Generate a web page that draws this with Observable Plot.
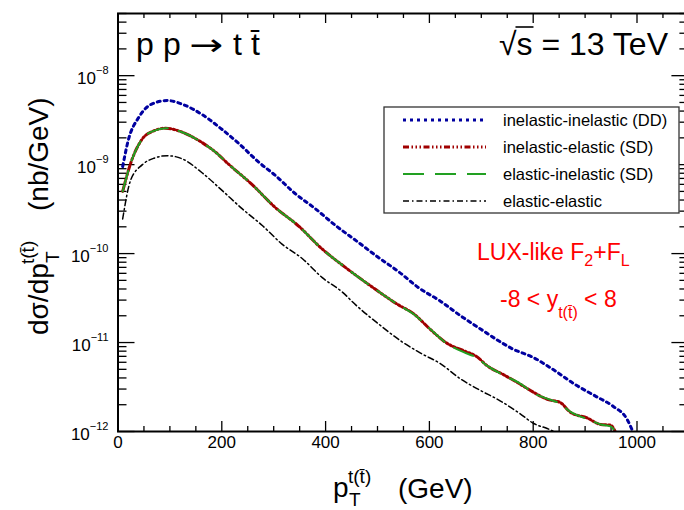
<!DOCTYPE html>
<html><head><meta charset="utf-8">
<script src="https://cdn.jsdelivr.net/npm/d3@7"></script>
<script src="https://cdn.jsdelivr.net/npm/@observablehq/plot@0.6"></script>
<style>
html,body{margin:0;padding:0;background:#fff;overflow:hidden}
#chart{position:relative;width:684px;height:510px;overflow:hidden}
</style>
</head><body><div id="chart"></div>
<script>
// ---------------- data ----------------
const ptDD  = [9, 20, 40, 65, 95, 125, 165, 200, 235, 270, 305, 340, 380, 420, 460, 500, 540, 580, 620, 660, 700, 740, 760, 800, 840, 880, 920, 955, 980, 992];
const sigDD = [0.95e-9, 1.9e-9, 3.4e-9, 4.8e-9, 5.25e-9, 4.75e-9, 3.56e-9, 2.5e-9, 1.68e-9, 1.08e-9, 7.4e-10, 4.8e-10, 3.2e-10, 2.05e-10, 1.38e-10, 9.2e-11, 6.3e-11, 4.1e-11, 2.95e-11, 2.0e-11, 1.4e-11, 9.9e-12, 8.5e-12, 6.8e-12, 4.9e-12, 3.4e-12, 2.5e-12, 1.9e-12, 1.4e-12, 1.0e-12];

const ptSD  = [9, 24, 47, 69, 92, 120, 156, 188, 214, 258, 303, 348, 393, 438, 490, 538, 570, 602, 634, 666, 692, 711, 743, 775, 801, 827, 852, 872, 904, 930, 949, 958];
const sigIE = [5.0e-10, 1.02e-9, 1.95e-9, 2.4e-9, 2.57e-9, 2.36e-9, 1.86e-9, 1.38e-9, 1.0e-9, 6.0e-10, 3.3e-10, 2.04e-10, 1.13e-10, 7.0e-11, 4.2e-11, 2.7e-11, 2.1e-11, 1.4e-11, 9.8e-12, 8.1e-12, 6.9e-12, 5.5e-12, 4.35e-12, 3.4e-12, 2.75e-12, 2.3e-12, 2.12e-12, 1.64e-12, 1.42e-12, 1.2e-12, 1.18e-12, 1.0e-12];
const sigEI = [5.0e-10, 1.02e-9, 1.95e-9, 2.4e-9, 2.57e-9, 2.36e-9, 1.86e-9, 1.38e-9, 1.0e-9, 6.0e-10, 3.3e-10, 2.04e-10, 1.13e-10, 7.0e-11, 4.2e-11, 2.7e-11, 2.08e-11, 1.41e-11, 9.7e-12, 7.8e-12, 6.7e-12, 5.5e-12, 4.3e-12, 3.45e-12, 2.7e-12, 2.34e-12, 2.05e-12, 1.66e-12, 1.38e-12, 1.2e-12, 1.14e-12, 1.0e-12];

const ptEE  = [9, 24, 47, 69, 95, 124, 162, 201, 239, 278, 316, 356, 393, 432, 458, 506, 544, 583, 621, 660, 698, 737, 775, 801, 827, 840];
const sigEE = [2.45e-10, 6.6e-10, 1.0e-9, 1.18e-9, 1.26e-9, 1.16e-9, 8.1e-10, 5.1e-10, 3.2e-10, 2.07e-10, 1.28e-10, 8.7e-11, 5.4e-11, 3.7e-11, 2.65e-11, 1.55e-11, 1.05e-11, 7.6e-12, 5.8e-12, 3.9e-12, 2.9e-12, 2.2e-12, 1.58e-12, 1.23e-12, 1.08e-12, 1.0e-12];

const seriesNames = ["inelastic-inelastic (DD)", "inelastic-elastic (SD)", "elastic-inelastic (SD)", "elastic-elastic"];

const xTicks = [0, 200, 400, 600, 800, 1000];
const xTickLabels = ["0", "200", "400", "600", "800", "1000"];
const yTicks = [1e-12, 1e-11, 1e-10, 1e-9, 1e-8];
const yTickExponents = ["\u221212", "\u221211", "\u221210", "\u22129", "\u22128"];

// ---------------- styles ----------------
const FONT = '"Liberation Sans", Arial, Helvetica, sans-serif';
const W = 684, H = 510, mL = 117.5, mR = -4.4, mT = 13, mB = 79;
const plotW = W - mL - mR, plotH = H - mT - mB;
const styles = [
  {stroke: "#0000a0", strokeWidth: 3, dash: "3,4"},
  {stroke: "#a00000", strokeWidth: 3, dash: "6,2.5,1.5,2.5,1.5,2.5,1.5,2.5"},
  {stroke: "#22a022", strokeWidth: 2, dash: "21,11"},
  {stroke: "#000000", strokeWidth: 1.5, dash: "6,3,1.5,3"}
];

const table = (pts, sigs) => pts.map((pt, i) => ({pt, sig: sigs[i]}));
const rows = [table(ptDD, sigDD), table(ptSD, sigIE), table(ptSD, sigEI), table(ptEE, sigEE)];

const xMinor = d3.range(50, 1100, 50).filter(v => v % 200 !== 0);
const yMinor = [-12, -11, -10, -9, -8].flatMap(e => [2,3,4,5,6,7,8,9].map(k => k * Math.pow(10, e))).filter(v => v < 5.01e-8);

const tickColor = "black";
const plot = Plot.plot({
  width: W, height: H,
  marginLeft: mL, marginRight: mR, marginTop: mT, marginBottom: mB,
  style: {fontFamily: FONT, background: "white", color: "black"},
  x: {domain: [0, 1100]},
  y: {type: "log", domain: [1e-12, 5e-8]},
  marks: [
    Plot.axisX({ticks: xTicks, tickSize: 0, tickPadding: 4, fontSize: 17, label: null,
      tickFormat: d => xTickLabels[xTicks.indexOf(d)]}),
    Plot.axisY({ticks: yTicks, tickSize: 0, tickPadding: 9.5, fontSize: 17, label: null, dy: 3,
      tickFormat: d => yTickExponents[yTicks.indexOf(d)]}),
    // inward ticks bottom / top
    Plot.tickX(xTicks, {x: d => d, insetTop: plotH - 10, stroke: tickColor, strokeWidth: 1.3}),
    Plot.tickX(xMinor, {x: d => d, insetTop: plotH - 5, stroke: tickColor, strokeWidth: 1.3}),
    Plot.tickX(xTicks, {x: d => d, insetBottom: plotH - 10, stroke: tickColor, strokeWidth: 1.3}),
    Plot.tickX(xMinor, {x: d => d, insetBottom: plotH - 5, stroke: tickColor, strokeWidth: 1.3}),
    // inward ticks left / right
    Plot.tickY(yTicks, {y: d => d, insetRight: plotW - 17, stroke: tickColor, strokeWidth: 1.3}),
    Plot.tickY(yMinor, {y: d => d, insetRight: plotW - 9, stroke: tickColor, strokeWidth: 1.3}),
    Plot.tickY(yTicks, {y: d => d, insetLeft: plotW - 17, stroke: tickColor, strokeWidth: 1.3}),
    Plot.tickY(yMinor, {y: d => d, insetLeft: plotW - 9, stroke: tickColor, strokeWidth: 1.3}),
    // curves
    ...rows.map((r, i) => Plot.line(r, {x: "pt", y: "sig", stroke: styles[i].stroke, strokeWidth: styles[i].strokeWidth,
      strokeDasharray: styles[i].dash, curve: "monotone-x", clip: true})),
    Plot.frame({stroke: "black", strokeWidth: 2})
  ]
});
document.getElementById("chart").appendChild(plot);

const svg = d3.select(plot);
// superscript exponents on y tick labels
svg.selectAll('g[aria-label="y-axis tick label"] text').each(function() {
  const t = d3.select(this);
  const e = t.text();
  t.text(null);
  t.append("tspan").text("10");
  t.append("tspan").attr("font-size", 11).attr("dy", "-0.9em").text(e);
});

const g = svg.append("g").attr("font-family", FONT).attr("fill", "black").attr("text-anchor", "start");

// top-left process label
const TS = 32;
g.append("text").attr("x", 136).attr("y", 55).attr("font-size", TS).text("p");
g.append("text").attr("x", 163).attr("y", 55).attr("font-size", TS).text("p");
g.append("text").attr("transform", "translate(189,55) scale(1.35,1)").attr("font-family", '"DejaVu Sans", sans-serif')
  .attr("font-size", 30).text("\u2192");
g.append("text").attr("x", 233).attr("y", 55).attr("font-size", TS).text("t");
g.append("text").attr("x", 251).attr("y", 55).attr("font-size", TS).text("t\u0304");

// sqrt(s) = 13 TeV
const ts = g.append("text").attr("x", 668).attr("y", 55).attr("font-size", TS).attr("text-anchor", "end")
  .text("\u221As = 13 TeV");
const tsNode = ts.node();
try {
  const x0 = tsNode.getEndPositionOfChar(0).x, x1 = tsNode.getEndPositionOfChar(1).x;
  g.append("line").attr("x1", x0 - 1).attr("x2", x1 + 1).attr("y1", 27).attr("y2", 27)
    .attr("stroke", "black").attr("stroke-width", 1.6);
} catch (e) {}

// x title
g.append("text").attr("x", 333).attr("y", 497).attr("font-size", 28).text("p");
g.append("text").attr("x", 349).attr("y", 506).attr("font-size", 19).text("T");
g.append("text").attr("x", 348).attr("y", 483).attr("font-size", 19).text("t(t\u0304)");
g.append("text").attr("x", 398).attr("y", 498).attr("font-size", 28).text("(GeV)");

// y title (rotated)
const yt = g.append("g").attr("transform", "translate(48,335) rotate(-90)");
yt.append("text").attr("x", 0).attr("y", 0).attr("font-size", 28).text("d\u03C3/dp");
yt.append("text").attr("x", 72).attr("y", 11).attr("font-size", 19).text("T");
yt.append("text").attr("x", 71).attr("y", -14).attr("font-size", 19).text("t(t\u0304)");
yt.append("text").attr("x", 124).attr("y", 0).attr("font-size", 28).text("(nb/GeV)");

// red annotation
const r1 = g.append("text").attr("x", 477).attr("y", 260).attr("font-size", 23).attr("fill", "#ff0000");
r1.append("tspan").text("LUX-like F");
r1.append("tspan").attr("font-size", 16).attr("dy", 6).text("2");
r1.append("tspan").attr("dy", -6).text("+F");
r1.append("tspan").attr("font-size", 16).attr("dy", 6).text("L");
const r2 = g.append("text").attr("x", 500).attr("y", 307).attr("font-size", 23).attr("fill", "#ff0000");
r2.append("tspan").text("-8 < y");
r2.append("tspan").attr("font-size", 16).attr("dy", 11).text("t(t\u0304)");
r2.append("tspan").attr("dy", -11).text(" < 8");

// legend
const lg = svg.append("g").attr("font-family", FONT).attr("text-anchor", "start");
lg.append("rect").attr("x", 384).attr("y", 107).attr("width", 295).attr("height", 106)
  .attr("fill", "white").attr("stroke", "#333").attr("stroke-width", 1.3);
const ly = [120, 147, 174, 201];
seriesNames.forEach((name, i) => {
  lg.append("line").attr("x1", 403).attr("x2", 486).attr("y1", ly[i]).attr("y2", ly[i])
    .attr("stroke", styles[i].stroke).attr("stroke-width", styles[i].strokeWidth)
    .attr("stroke-dasharray", styles[i].dash);
  lg.append("text").attr("x", 503).attr("y", ly[i] + 6).attr("font-size", 16.5).attr("fill", "black").text(name);
});
</script>
</body></html>
